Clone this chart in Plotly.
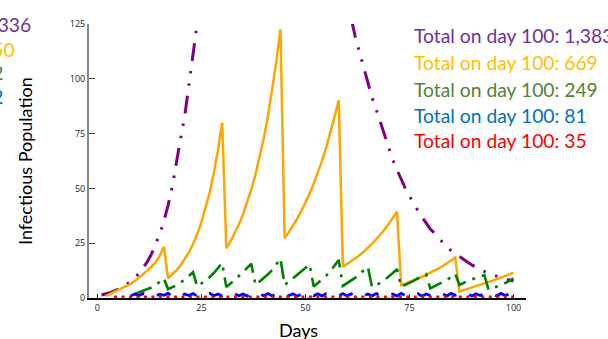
import plotly.graph_objects as go

# ---------------- data ----------------
purple_start = 1
purple = [1.4, 1.8, 2.4, 3.1, 3.9, 4.9, 6.1, 7.5, 9.2,                       # d1-9
          11.2, 13.6, 16.5, 20.0, 24.2, 29.2, 35.2, 42.3, 50.8, 60.8,         # d10-19
          72.6, 83.0, 99.0, 114.0, 130.0, 147.0, 164.0, 181.0, 197.0, 212.0,  # d20-29
          225.0, 236.0, 245.0, 252.0, 258.0, 262.0, 265.0, 267.0, 268.0, 267.0,  # d30-39
          266.0, 264.0, 262.0, 259.0, 256.0, 252.0, 248.0, 243.0, 238.0, 232.0,  # d40-49
          226.0, 219.0, 212.0, 204.0, 196.0, 187.0, 178.0, 168.0, 158.0, 147.0,  # d50-59
          137.0, 127.5, 119.0, 112.0, 105.0, 98.0, 91.5, 86.0, 80.0, 74.0,    # d60-69
          68.5, 63.0, 58.5, 54.0, 50.0, 46.5, 43.0, 40.0, 37.0, 34.0,         # d70-79
          31.5, 29.5, 27.3, 25.2, 23.3, 21.6, 20.2, 18.9, 17.6, 16.3,         # d80-89
          15.1, 14.0, 13.0, 12.1, 11.2, 10.5, 9.9, 9.3, 8.7, 8.2,             # d90-99
          7.7]                                                               # d100

orange_start = 2
orange = [0.9, 1.8, 2.7, 3.6, 4.5, 5.3, 6.4, 7.7,                            # d2-9
          9.2, 10.8, 12.5, 14.3, 16.2, 19.3, 23.4, 9.0, 10.6, 12.6,          # d10-19
          14.9, 17.6, 20.8, 24.6, 29.1, 34.5, 40.8, 48.2, 57.1, 67.5,        # d20-29
          80.0, 22.7, 25.8, 29.4, 33.5, 38.1, 43.4, 49.4, 56.3, 64.1,        # d30-39
          72.9, 83.0, 94.5, 107.6, 122.5, 27.4, 30.0, 32.9, 36.1, 39.6,      # d40-49
          43.4, 47.6, 52.2, 57.2, 62.7, 68.7, 75.3, 82.6, 90.3, 14.3,        # d50-59
          15.5, 16.7, 18.1, 19.5, 21.1, 22.8, 24.7, 26.7, 28.8, 31.2,        # d60-69
          33.7, 36.4, 39.4, 5.9, 6.6, 7.3, 8.1, 8.9, 9.7, 10.6,              # d70-79
          11.5, 12.5, 13.5, 14.6, 15.8, 17.0, 18.4, 2.9, 3.5, 4.1,           # d80-89
          4.7, 5.3, 5.9, 6.5, 7.2, 7.9, 8.6, 9.3, 10.0, 10.7,                # d90-99
          11.5]                                                             # d100

green_start = 9
green = [1.8,                                                                # d9
         2.5, 3.2, 4.0, 4.8, 5.8, 7.2, 9.0, 4.0, 4.8, 5.8,                   # d10-19
         7.0, 8.4, 10.0, 11.8, 5.2, 6.6, 8.0, 9.6, 11.4, 13.5,               # d20-29
         16.0, 5.0, 6.5, 8.2, 10.0, 12.0, 13.8, 15.6, 5.9, 7.4,              # d30-39
         9.0, 10.8, 12.8, 15.2, 18.0, 5.9, 7.4, 9.0, 10.6, 12.2,             # d40-49
         13.8, 15.3, 5.2, 6.8, 8.4, 10.2, 12.2, 14.5, 17.3, 5.5,             # d50-59
         6.6, 8.0, 9.3, 10.8, 12.4, 14.2, 5.0, 5.8, 6.9, 8.2,                # d60-69
         9.7, 11.4, 13.2, 5.2, 6.0, 6.8, 7.8, 8.9, 9.8, 10.8,                # d70-79
         4.4, 5.3, 6.2, 7.2, 8.3, 9.5, 11.0, 6.0, 7.0, 7.8,                  # d80-89
         8.5, 9.0, 9.7, 10.5, 3.8, 4.4, 5.1, 5.8, 6.8, 7.8,                  # d90-99
         9.0]                                                               # d100

blue_start = 8
blue = [0.9, 1.8,                                                            # d8-9
        1.0, 2.0, 1.1, 1.9, 0.9, 1.7, 1.2, 2.1, 1.0, 1.9,                    # d10-19
        0.8, 1.8, 1.1, 2.0, 0.9, 1.9, 1.2, 2.1, 1.0, 1.8,                    # d20-29
        0.9, 2.0, 1.1, 1.9, 1.0, 1.8, 0.9, 2.1, 1.2, 1.9,                    # d30-39
        1.0, 2.0, 0.9, 1.8, 1.1, 2.0, 1.0, 1.9, 0.8, 1.8,                    # d40-49
        1.1, 2.1, 1.0, 1.9, 0.9, 2.0, 1.2, 1.8, 1.0, 2.0,                    # d50-59
        0.9, 1.9, 1.1, 2.1, 1.0, 1.8, 0.9, 2.0, 1.2, 1.9,                    # d60-69
        1.0, 1.8, 0.9, 2.1, 1.1, 1.9, 1.0, 2.0, 0.8, 1.8,                    # d70-79
        1.1, 2.0, 1.0, 1.9, 0.9, 2.1, 1.2, 1.8, 1.0, 2.0,                    # d80-89
        0.9, 1.9, 1.1, 2.0, 1.0, 1.8, 0.9, 2.1, 1.1, 1.9,                    # d90-99
        1.3]                                                                # d100

red_start = 4
red = [0.5, 0.4, 0.6, 0.5, 0.4, 0.5,                                         # d4-9
       0.6, 0.5, 0.4, 0.5, 0.6, 0.5, 0.4, 0.5, 0.6, 0.5,                     # d10-19
       0.4, 0.5, 0.6, 0.5, 0.4, 0.5, 0.6, 0.5, 0.4, 0.5,                     # d20-29
       0.6, 0.5, 0.4, 0.5, 0.6, 0.5, 0.4, 0.5, 0.6, 0.5,                     # d30-39
       0.4, 0.5, 0.6, 0.5, 0.4, 0.5, 0.6, 0.5, 0.4, 0.5,                     # d40-49
       0.6, 0.5, 0.4, 0.5, 0.6, 0.5, 0.4, 0.5, 0.6, 0.5,                     # d50-59
       0.4, 0.5, 0.6, 0.5, 0.4, 0.5, 0.6, 0.5, 0.4, 0.5,                     # d60-69
       0.6, 0.5, 0.4, 0.5, 0.6, 0.5, 0.4, 0.5, 0.6, 0.5,                     # d70-79
       0.4, 0.5, 0.6, 0.5, 0.4, 0.5, 0.6, 0.5, 0.4, 0.5,                     # d80-89
       0.6, 0.5, 0.4, 0.5, 0.6, 0.5, 0.4, 0.5, 0.6, 0.5,                     # d90-99
       0.5]                                                                 # d100

x_ticks = [0, 25, 50, 75, 100]
y_ticks = [0, 25, 50, 75, 100, 125]

right_labels = ["Total on day 100: 1,383", "Total on day 100: 669",
                "Total on day 100: 249", "Total on day 100: 81",
                "Total on day 100: 35"]
left_labels = ["Total on day 50: 1,336", "Total on day 50: 250",
               "Total on day 50: 82", "Total on day 50: 32"]
label_colors = ["#7030A0", "#FFC000", "#548235", "#0070C0", "#FF0000"]

# ---------------- figure ----------------
W, H = 608, 339
L, R, T, B = 89, 82, 24, 41
PW, PH = W - L - R, H - T - B


def px_x(p):
    return (p - L) / PW


def px_y(p):
    return (H - B - p) / PH


series = [
    (purple_start, purple, "#800080", 3, "18px,10px,2.5px,10px,2.5px,10px"),
    (orange_start, orange, "#FFA500", 2.5, "solid"),
    (green_start, green, "#008000", 2.6, "18px,7px,3px,7px"),
    (blue_start, blue, "#0000FF", 2.8, "15px,14px"),
    (red_start, red, "#FF0000", 3, "3px,4.5px"),
]

fig = go.Figure()
for start, vals, color, width, dash in series:
    fig.add_trace(go.Scatter(
        x=list(range(start, start + len(vals))), y=vals, mode="lines",
        line=dict(color=color, width=width, dash=dash),
        showlegend=False, hoverinfo="skip"))

font_main = "Lato, 'Open Sans', sans-serif"
annotations = []
right_y = [36, 62, 89, 115, 140]
for txt, col, yp in zip(right_labels, label_colors, right_y):
    annotations.append(dict(text=txt, xref="paper", yref="paper",
                            x=px_x(412), y=px_y(yp), xanchor="left", yanchor="middle",
                            showarrow=False, font=dict(family=font_main, size=19.3, color=col)))
left_y = [24, 49, 73, 97]
left_right_edge = [33, 17, 5, 5]
for txt, col, yp, xe in zip(left_labels, label_colors, left_y, left_right_edge):
    annotations.append(dict(text=txt, xref="paper", yref="paper",
                            x=px_x(xe), y=px_y(yp), xanchor="right", yanchor="middle",
                            showarrow=False, font=dict(family=font_main, size=19.3, color=col)))

annotations.append(dict(text="Infectious Population", xref="paper", yref="paper",
                        x=px_x(25), y=px_y(161), xanchor="center", yanchor="middle",
                        textangle=-90, showarrow=False,
                        font=dict(family=font_main, size=18, color="#000000")))
annotations.append(dict(text="Days", xref="paper", yref="paper",
                        x=px_x(298), y=px_y(330), xanchor="center", yanchor="middle",
                        showarrow=False,
                        font=dict(family=font_main, size=18, color="#000000")))
annotations.append(dict(text="Daily Totals by Pathogen", xref="paper", yref="paper",
                        x=px_x(66), y=px_y(2.5), xanchor="left", yanchor="bottom",
                        showarrow=False,
                        font=dict(family=font_main, size=22, color="#000000")))

fig.update_layout(
    width=W, height=H,
    margin=dict(l=L, r=R, t=T, b=B, pad=0),
    paper_bgcolor="white", plot_bgcolor="white",
    showlegend=False,
    annotations=annotations,
    xaxis=dict(range=[-2, 103], tickvals=x_ticks, ticks="inside", ticklen=4,
               tickcolor="#333333", showline=True, linecolor="#000000", linewidth=1.5,
               showgrid=False, zeroline=False,
               tickfont=dict(family="'Open Sans', sans-serif", size=9, color="#222222")),
    yaxis=dict(range=[0, 125], tickvals=y_ticks, ticks="inside", ticklen=6,
               tickcolor="#444444", showline=True, linecolor="#888888", linewidth=2,
               showgrid=False, zeroline=False,
               tickfont=dict(family="'Open Sans', sans-serif", size=9, color="#222222")),
)

fig.write_html("out.html", config={"displayModeBar": False},
               post_script="document.body.style.margin='0';document.body.style.overflow='hidden';")
